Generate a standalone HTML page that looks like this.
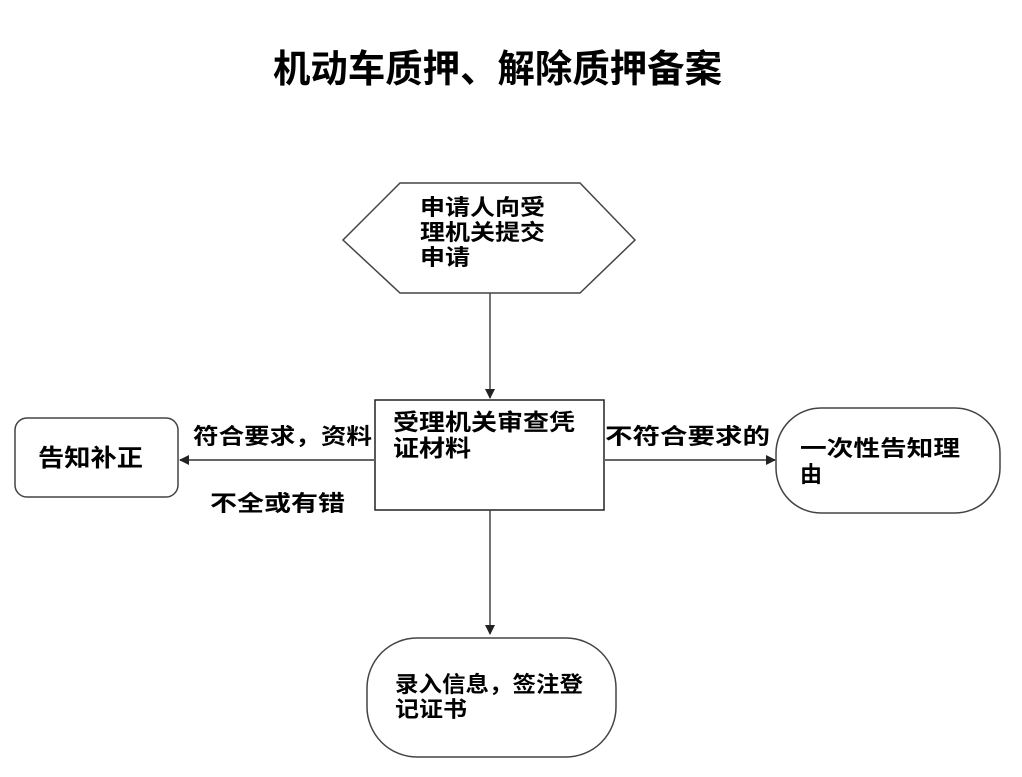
<!DOCTYPE html>
<html><head><meta charset="utf-8"><style>
html,body{margin:0;padding:0;background:#fff;}
svg{display:block;}
text{font-family:"Liberation Sans","Noto Sans CJK SC","WenQuanYi Zen Hei",sans-serif;font-weight:bold;fill:#000;}
</style></head><body>
<svg width="1022" height="777" viewBox="0 0 1022 777" xmlns="http://www.w3.org/2000/svg">
<defs><marker id="a" markerWidth="10" markerHeight="10" refX="9" refY="5" orient="auto" markerUnits="userSpaceOnUse"><path d="M0,0 L10,5 L0,10 z" fill="#222"/></marker></defs>
<text x="273" y="82" font-size="38" textLength="449" lengthAdjust="spacingAndGlyphs">机动车质押、解除质押备案</text>
<polygon points="400,183 580,183 635,240 580,293 400,293 343,240" fill="#fff" stroke="#444" stroke-width="1.5"/>
<text x="420" y="215" font-size="22" textLength="125" lengthAdjust="spacingAndGlyphs">申请人向受</text>
<text x="420" y="240" font-size="22" textLength="125" lengthAdjust="spacingAndGlyphs">理机关提交</text>
<text x="420" y="265" font-size="22" textLength="50" lengthAdjust="spacingAndGlyphs">申请</text>
<line x1="490" y1="293" x2="490" y2="398" stroke="#444" stroke-width="1.5" marker-end="url(#a)"/>
<rect x="375" y="400" width="229" height="110" fill="#fff" stroke="#222" stroke-width="1.5"/>
<text x="393" y="430" font-size="23" textLength="182" lengthAdjust="spacingAndGlyphs">受理机关审查凭</text>
<text x="393" y="456" font-size="23" textLength="78" lengthAdjust="spacingAndGlyphs">证材料</text>
<line x1="375" y1="460" x2="180" y2="460" stroke="#666" stroke-width="2" marker-end="url(#a)"/>
<rect x="15" y="418" width="163" height="79" rx="12" fill="#fff" stroke="#444" stroke-width="1.5"/>
<text x="38" y="466" font-size="24" textLength="105" lengthAdjust="spacingAndGlyphs">告知补正</text>
<text x="193" y="444" font-size="22" textLength="179" lengthAdjust="spacingAndGlyphs">符合要求，资料</text>
<text x="210" y="511" font-size="22" textLength="135" lengthAdjust="spacingAndGlyphs">不全或有错</text>
<line x1="604" y1="460" x2="775" y2="460" stroke="#666" stroke-width="2" marker-end="url(#a)"/>
<text x="605" y="444" font-size="22" textLength="165" lengthAdjust="spacingAndGlyphs">不符合要求的</text>
<rect x="776" y="408" width="224" height="105" rx="45" fill="#fff" stroke="#444" stroke-width="1.5"/>
<text x="800" y="456" font-size="22" textLength="160" lengthAdjust="spacingAndGlyphs">一次性告知理</text>
<text x="800" y="482" font-size="22">由</text>
<line x1="490" y1="510" x2="490" y2="634" stroke="#444" stroke-width="1.5" marker-end="url(#a)"/>
<rect x="367" y="638" width="249" height="119" rx="50" fill="#fff" stroke="#444" stroke-width="1.5"/>
<text x="395" y="692" font-size="22" textLength="188" lengthAdjust="spacingAndGlyphs">录入信息，签注登</text>
<text x="395" y="717" font-size="22" textLength="72" lengthAdjust="spacingAndGlyphs">记证书</text>
</svg>
</body></html>
